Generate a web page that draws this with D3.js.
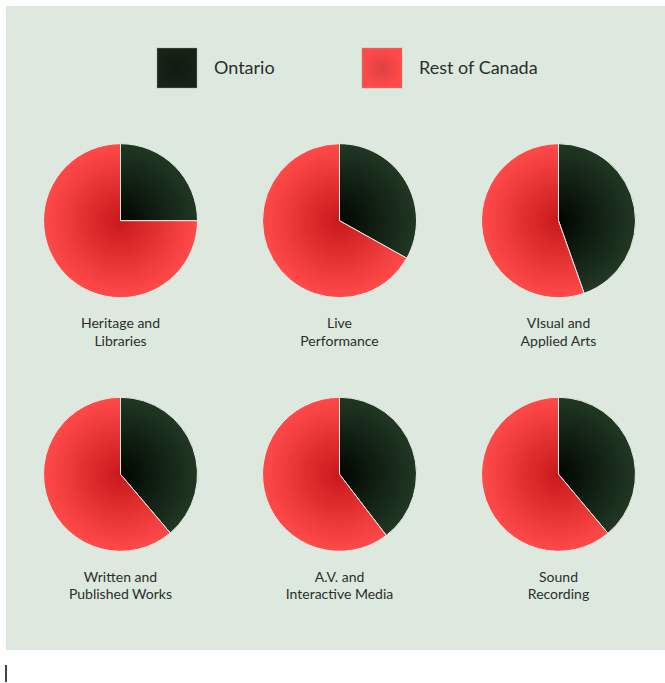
<!DOCTYPE html>
<html>
<head>
<meta charset="utf-8">
<script src="https://cdn.jsdelivr.net/npm/d3@7"></script>
<style>
  body { margin: 0; background: #fff; }
  svg text { font-family: Lato, "Open Sans", sans-serif; fill: #2b2f2b; }
</style>
</head>
<body>
<svg id="chart" width="665" height="683"></svg>
<script>
// share of each sector (percent)
var sectors = ["Heritage and|Libraries", "Live|Performance", "VIsual and|Applied Arts",
	"Written and|Published Works", "A.V. and|Interactive Media", "Sound|Recording"];
var ontario = [25, 33.1, 44.6, 38.8, 39.6, 38.9];
var restOfCanada = [75, 66.9, 55.4, 61.2, 60.4, 61.1];
var seriesNames = ["Ontario", "Rest of Canada"];

var svg = d3.select("#chart"),
	width = 665,
	radius = 77;

svg.append("rect")
	.attr("x", 6).attr("y", 6)
	.attr("width", 659).attr("height", 644)
	.attr("fill", "#dde8de");

// little cursor mark under the panel
svg.append("rect")
	.attr("x", 5).attr("y", 665)
	.attr("width", 2).attr("height", 17)
	.attr("fill", "#444");

var defs = svg.append("defs");

function addGradient(id, inner, outer, units) {
	var g = defs.append("radialGradient").attr("id", id);
	if (units) {
		g.attr("gradientUnits", "userSpaceOnUse")
			.attr("cx", 0).attr("cy", 0).attr("r", radius);
	}
	g.append("stop").attr("offset", "0%").attr("stop-color", inner);
	g.append("stop").attr("offset", "100%").attr("stop-color", outer);
}
addGradient("gOn", "#000600", "#213824", true);
addGradient("gRest", "#c8191a", "#ff4a4a", true);
addGradient("lOn", "#111a11", "#172317", false);
addGradient("lRest", "#dd4242", "#ff4a4a", false);

var fills = ["url(#gOn)", "url(#gRest)"];
var legendFills = ["url(#lOn)", "url(#lRest)"];

// legend
var legend = svg.append("g").selectAll("g")
	.data(seriesNames)
	.enter().append("g")
	.attr("transform", function (d, i) { return "translate(" + (157 + i * 205) + ",48)"; });

legend.append("rect")
	.attr("width", 40).attr("height", 40)
	.attr("fill", function (d, i) { return legendFills[i]; })
	.attr("stroke", "#9aa39a").attr("stroke-opacity", 0.5).attr("stroke-width", 0.8);

legend.append("text")
	.attr("x", 57).attr("y", 26)
	.attr("font-size", 18)
	.text(function (d) { return d; });

// pies
var xPos = d3.scalePoint().domain([0, 1, 2]).range([120.5, 558.5]);
var yPos = d3.scalePoint().domain([0, 1]).range([220.7, 474.3]);

var pie = d3.pie().sort(null).value(function (d) { return d; });
var arc = d3.arc().innerRadius(0).outerRadius(radius);

var cells = svg.append("g").selectAll("g")
	.data(sectors)
	.enter().append("g")
	.attr("transform", function (d, i) {
		return "translate(" + xPos(i % 3) + "," + yPos(Math.floor(i / 3)) + ")";
	});

cells.selectAll("path")
	.data(function (d, i) { return pie([ontario[i], restOfCanada[i]]); })
	.enter().append("path")
	.attr("d", arc)
	.attr("fill", function (d, j) { return fills[j]; })
	.attr("stroke", "#e6ece6")
	.attr("stroke-width", 1);

cells.append("text")
	.attr("text-anchor", "middle")
	.attr("font-size", 14)
	.selectAll("tspan")
	.data(function (d) { return d.split("|"); })
	.enter().append("tspan")
	.attr("x", 0)
	.attr("y", function (d, k) { return radius + 30.5 + k * 17.6; })
	.text(function (d) { return d; });
</script>
</body>
</html>
